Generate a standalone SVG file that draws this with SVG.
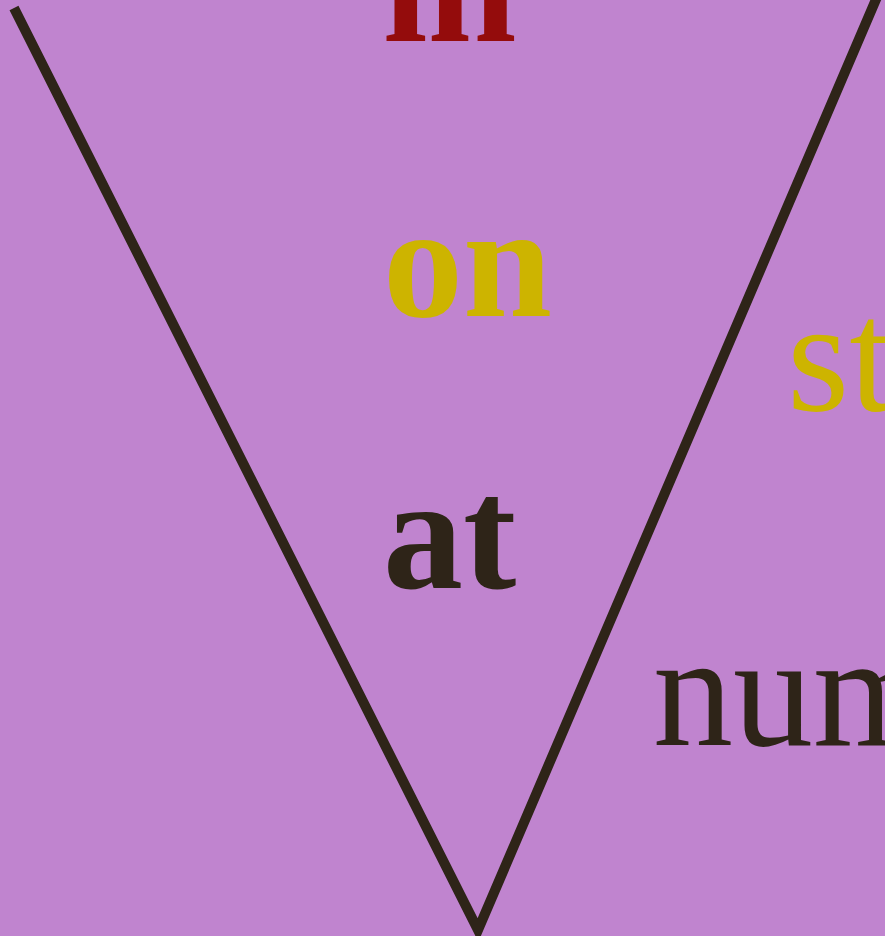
<svg xmlns="http://www.w3.org/2000/svg" width="885" height="936" viewBox="0 0 885 936">
<style>
.b{font-family:"Liberation Serif","Times New Roman",serif;font-weight:bold;font-size:160px}
.r{font-family:"Liberation Serif","Times New Roman",serif;font-weight:normal;font-size:160px}
</style>
<rect x="0" y="0" width="885" height="936" fill="#c084cf"/>
<g id="connectors">
<polyline points="14,8 478,930 880,-10" fill="none" stroke="#2e2418" stroke-width="10" stroke-linejoin="miter" stroke-miterlimit="10"/>
</g>
<g id="in"><text class="b" x="383" y="41" fill="#940c0c">in</text></g>
<g id="on"><text class="b" x="383" y="316" fill="#cdb400">on</text></g>
<g id="at"><text class="b" x="383" y="588" fill="#2e2418">at</text></g>
<g id="st"><text class="r" x="787" y="410" fill="#cdb400">st</text></g>
<g id="num"><text class="r" x="653" y="745" fill="#2e2418">num</text></g>
</svg>
